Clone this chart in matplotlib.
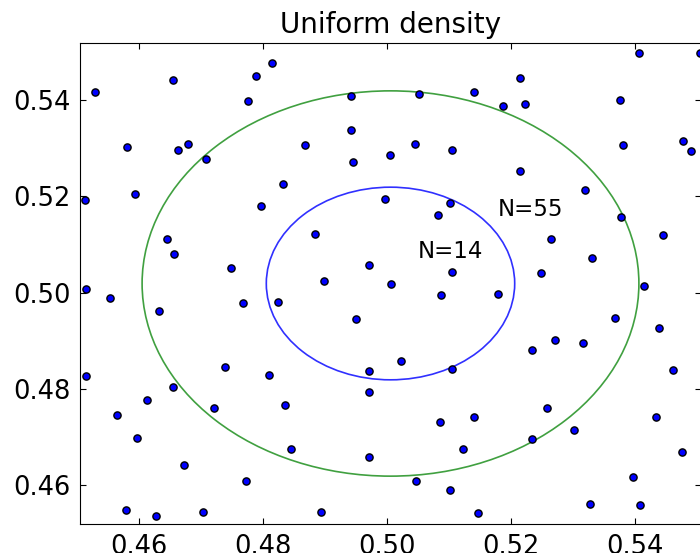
import matplotlib
matplotlib.use("Agg")
import matplotlib.pyplot as plt
from matplotlib.patches import Circle

# centre point of the window and radii of the two rings
cx, cy = 0.50056, 0.50187
half = 0.05
radii = [0.02, 0.04]
ring_colors = ['#3030ff', '#40a040']

# points
xs = [0.45295, 0.46548, 0.48145, 0.47892, 0.47763, 0.49424, 0.45818, 0.46640,
      0.46802, 0.47092, 0.48682, 0.49424, 0.49456, 0.50040, 0.45134, 0.45935,
      0.48323, 0.47968, 0.49973, 0.46463, 0.46565, 0.48839, 0.47484, 0.49705,
      0.48989, 0.45156, 0.50056, 0.54065, 0.55037, 0.52145, 0.50511, 0.51398,
      0.51866, 0.52221, 0.53753, 0.50456, 0.51053, 0.53806, 0.54774, 0.54892,
      0.52140, 0.53194, 0.51021, 0.50818, 0.53774, 0.52640, 0.54452, 0.53302,
      0.51053, 0.52479, 0.54145, 0.45544, 0.46334, 0.47677, 0.48242, 0.49500,
      0.45156, 0.47398, 0.48097, 0.49715, 0.46560, 0.49715, 0.46140, 0.45645,
      0.47210, 0.48360, 0.45968, 0.48452, 0.49705, 0.46726, 0.47726, 0.45790,
      0.46285, 0.47044, 0.48940, 0.50866, 0.51795, 0.53677, 0.54387, 0.50221,
      0.51053, 0.52334, 0.52705, 0.53156, 0.54613, 0.52576, 0.50860, 0.51398,
      0.53011, 0.52334, 0.54334, 0.51221, 0.54758, 0.50473, 0.51011, 0.51473,
      0.53968, 0.53274, 0.54081]
ys = [0.54169, 0.54418, 0.54771, 0.54489, 0.53982, 0.54086, 0.53026, 0.52963,
      0.53088, 0.52770, 0.53067, 0.53379, 0.52708, 0.52853, 0.51918, 0.52043,
      0.52251, 0.51793, 0.51939, 0.51101, 0.50796, 0.51212, 0.50499, 0.50561,
      0.50229, 0.50079, 0.50187, 0.54979, 0.54979, 0.54460, 0.54127, 0.54169,
      0.53878, 0.53919, 0.54003, 0.53082, 0.52963, 0.53061, 0.53150, 0.52943,
      0.52527, 0.52126, 0.51856, 0.51606, 0.51565, 0.51101, 0.51191, 0.50707,
      0.50416, 0.50401, 0.50127, 0.49896, 0.49626, 0.49792, 0.49813, 0.49460,
      0.48267, 0.48454, 0.48288, 0.48371, 0.48038, 0.47934, 0.47768, 0.47456,
      0.47602, 0.47658, 0.46978, 0.46744, 0.46577, 0.46411, 0.46079, 0.45476,
      0.45366, 0.45434, 0.45434, 0.49958, 0.49979, 0.49480, 0.49264, 0.48587,
      0.48412, 0.48815, 0.49015, 0.48961, 0.48400, 0.47602, 0.47311, 0.47415,
      0.47145, 0.46958, 0.47415, 0.46744, 0.46687, 0.46079, 0.45892, 0.45414,
      0.46162, 0.45601, 0.45580]

labels = ['N=14', 'N=55']
label_x = [0.5050, 0.5179]
label_y = [0.5071, 0.5159]

fig = plt.figure(figsize=(7, 5.53), dpi=100)
ax = fig.add_axes([80 / 700, 28.7 / 553, 621 / 700, 481.6 / 553])

ax.scatter(xs, ys, s=27, c='#0000ff', edgecolors='black', linewidths=1.0, zorder=3)

for r, col in zip(radii, ring_colors):
    ax.add_patch(Circle((cx, cy), r, fill=False, edgecolor=col, linewidth=1.2))

for t, x, y in zip(labels, label_x, label_y):
    ax.text(x, y, t, fontsize=16.5, va='baseline', ha='left')

ax.set_xlim(cx - half, cx + half)
ax.set_ylim(cy - half, cy + half)
ax.set_xticks([0.46, 0.48, 0.50, 0.52, 0.54])
ax.set_yticks([0.46, 0.48, 0.50, 0.52, 0.54])
ax.set_xticklabels(['0.46', '0.48', '0.50', '0.52', '0.54'])
ax.set_yticklabels(['0.46', '0.48', '0.50', '0.52', '0.54'])
ax.tick_params(direction='in', top=True, right=True, length=4,
               labelsize=18.5, pad=7)
ax.set_title('Uniform density', fontsize=20, pad=7)

fig.savefig('out.png', dpi=100, facecolor='white')
